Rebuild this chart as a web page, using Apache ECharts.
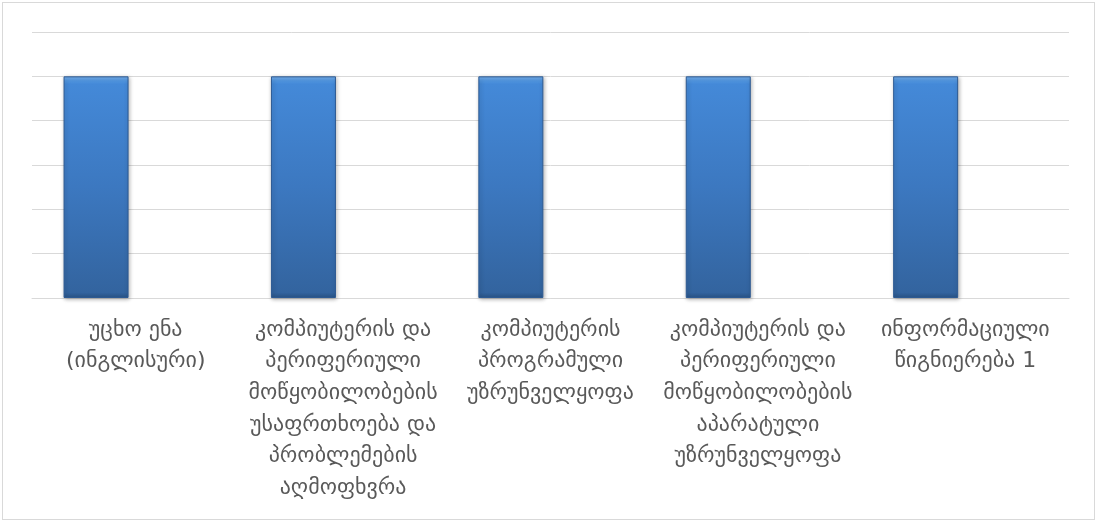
<!DOCTYPE html>
<html>
<head>
<meta charset="utf-8">
<script src="https://cdn.jsdelivr.net/npm/echarts@6/dist/echarts.min.js"></script>
<style>
html,body{margin:0;padding:0;background:#fff;}
#frame{position:absolute;left:2px;top:2px;width:1093px;height:518px;border:1px solid #d9d9d9;box-sizing:border-box;}
#chart{position:absolute;left:0;top:0;width:1098px;height:523px;}
</style>
</head>
<body>
<div id="frame"></div>
<div id="chart"></div>
<script>
const categories = [
  "უცხო ენა\n(ინგლისური)",
  "კომპიუტერის და\nპერიფერიული\nმოწყობილობების\nუსაფრთხოება და\nპრობლემების\nაღმოფხვრა",
  "კომპიუტერის\nპროგრამული\nუზრუნველყოფა",
  "კომპიუტერის და\nპერიფერიული\nმოწყობილობების\nაპარატული\nუზრუნველყოფა",
  "ინფორმაციული\nწიგნიერება 1"
];
const seriesValues = [5, 5, 5, 5, 5];
const emptySeriesValues = ['-', '-', '-', '-', '-'];

const chart = echarts.init(document.getElementById('chart'), null, {renderer: 'canvas'});
chart.setOption({
  animation: false,
  grid: {left: 32, right: 29, top: 32, bottom: 225, containLabel: false},
  xAxis: {
    type: 'category',
    data: categories,
    axisLine: {show: true, lineStyle: {color: '#d9d9d9', width: 1}},
    axisTick: {show: false},
    axisLabel: {
      interval: 0,
      color: '#595959',
      fontFamily: 'DejaVu Sans',
      fontSize: 22,
      lineHeight: 31.7,
      margin: 16,
      align: 'center',
      verticalAlign: 'top'
    }
  },
  yAxis: {
    type: 'value',
    min: 0, max: 6, interval: 1,
    axisLabel: {show: false},
    axisLine: {show: false},
    axisTick: {show: false},
    splitLine: {show: true, lineStyle: {color: '#d9d9d9', width: 1}}
  },
  series: [
    {
      type: 'bar',
      data: seriesValues,
      barWidth: 65,
      barGap: '22%',
      itemStyle: {
        color: new echarts.graphic.LinearGradient(0, 0, 0, 1, [
          {offset: 0, color: '#7ab3ee'},
          {offset: 0.02, color: '#5196e0'},
          {offset: 0.035, color: '#4489d8'},
          {offset: 0.5, color: '#3c78c0'},
          {offset: 0.975, color: '#33649f'},
          {offset: 1, color: '#2a5588'}
        ]),
        borderColor: '#2d5a93',
        borderWidth: 1,
        shadowColor: 'rgba(0,0,0,0.3)',
        shadowBlur: 4,
        shadowOffsetX: 1,
        shadowOffsetY: 1
      }
    },
    {
      type: 'bar',
      data: emptySeriesValues,
      barWidth: 65
    }
  ]
});
</script>
</body>
</html>
